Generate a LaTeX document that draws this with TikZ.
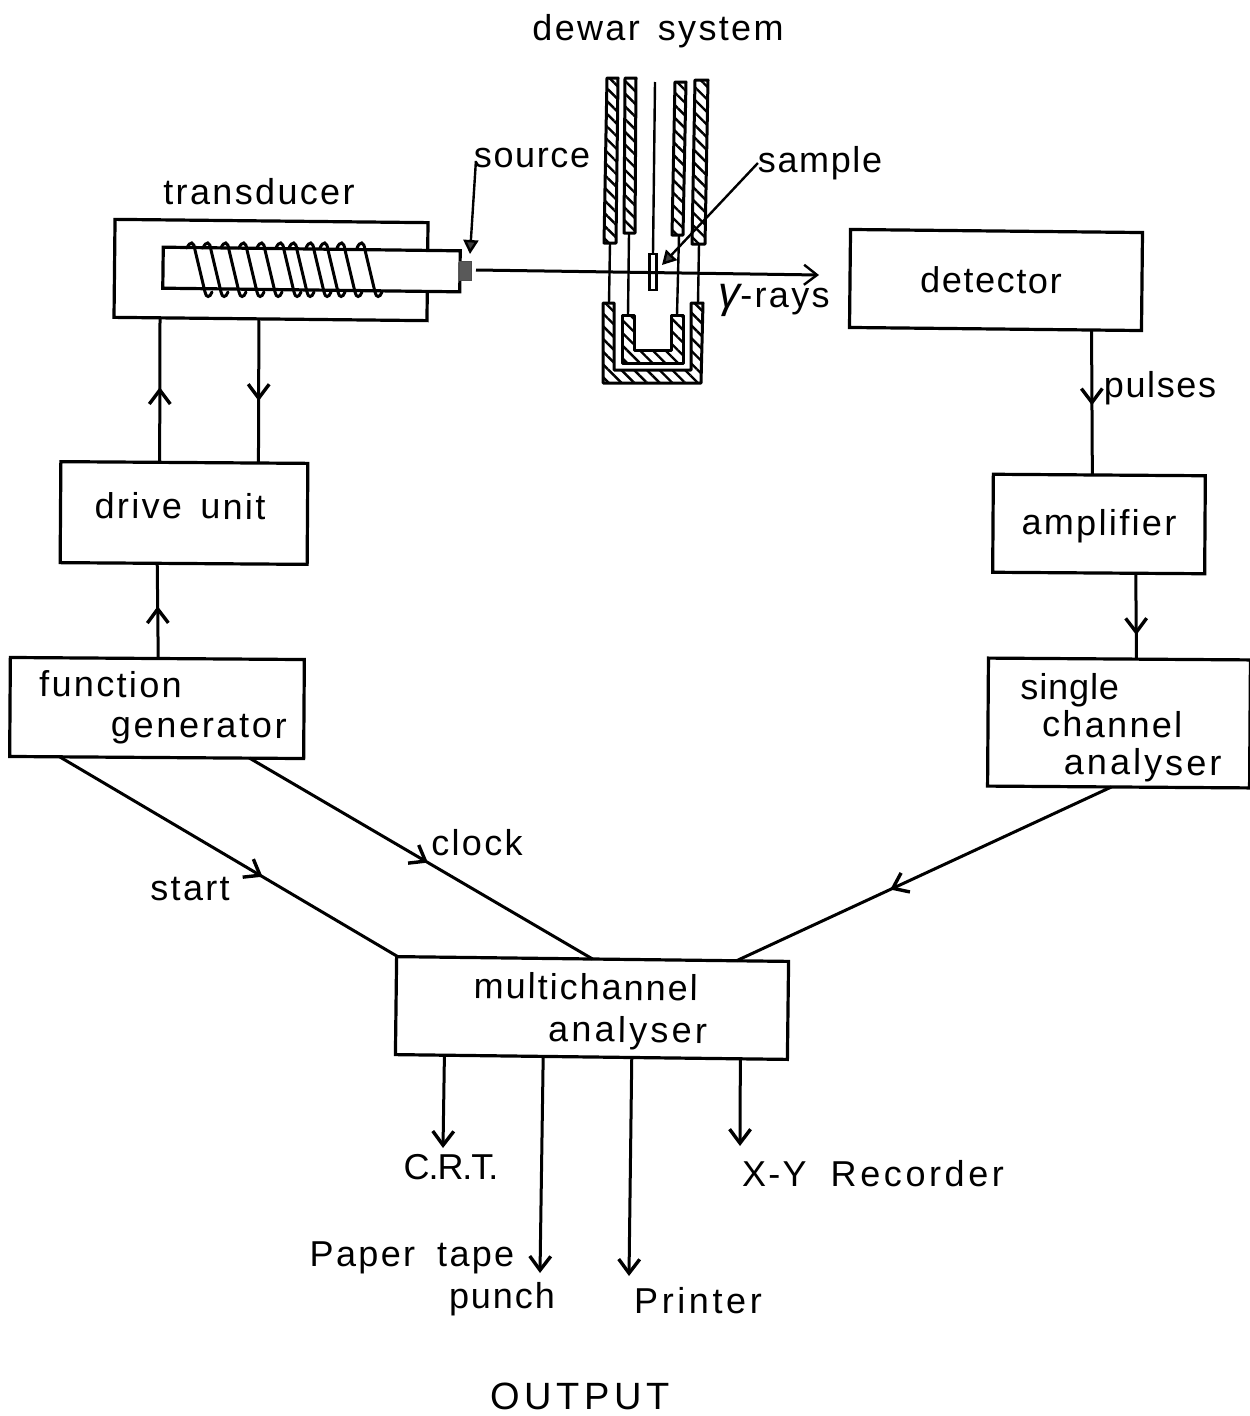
\documentclass[tikz,border=0pt]{standalone}
\usepackage{fontspec}
\setmainfont{Liberation Sans}[LetterSpace=6.5]
\usetikzlibrary{arrows.meta,calc,decorations.markings,patterns.meta}
\newcommand{\ls}[2]{{\addfontfeatures{LetterSpace=#1}#2}}
\newcommand{\liftup}[2]{\raisebox{0pt}[\height][\dimexpr\depth+#1\relax]{#2}}
\tikzset{
  x=1pt,y=-1pt,
  every node/.style={font=\fontsize{36}{40}\selectfont,inner sep=0pt,outer sep=0pt},
  wire/.style={line width=3pt,black},
  box/.style={draw=black,line width=3.2pt,fill=white,align=left},
  lbl/.style={anchor=center,align=center},
  barb/.tip={Straight Barb[length=14pt,width=21pt,line width=3.4pt]},
  midarrow/.style={postaction={decorate},decoration={markings,mark=at position #1 with {\arrow{barb}}}},
  hatched/.style={draw=black,line width=3pt,pattern={Lines[angle=-45,distance=9pt,line width=2.4pt]},line join=round},
  thin wall/.style={line width=2.4pt,black},
  pointer/.style={line width=2.4pt,-{Triangle[length=14pt,width=15pt,fill=black!75]}}
}
\begin{document}
\begin{tikzpicture}
\useasboundingbox (0,0) rectangle (1250,1416);
\fill[white] (0,0) rectangle (1250,1416);

% ---- boxes
\node[box,rotate=-0.6,minimum width=313pt,minimum height=98pt] (xdcr) at (271,270) {};
\node[box,rotate=-0.6,minimum width=292pt,minimum height=98pt] (det) at (996,280) {\ls{4.5}{detector}\hspace*{10pt}};
\node[box,rotate=-0.4,minimum width=212pt,minimum height=98pt] (amp) at (1099,524) {\rule{0pt}{30pt}amplifier};
\node[box,rotate=-0.4,minimum width=247pt,minimum height=101pt] (drive) at (184,513) {\liftup{14pt}{drive\hspace{6pt} unit}\hspace*{8pt}};
\node[box,rotate=-0.4,minimum width=294pt,minimum height=99pt] (fgen) at (157,708) {\hspace*{12pt}function\\\hspace*{84pt}\ls{7.5}{generator}};
\node[box,rotate=-0.4,minimum width=262pt,minimum height=128pt,font=\fontsize{36}{37.5}\selectfont] (sca) at (1119,723) {\rule{0pt}{36pt}\hspace*{4pt}\ls{2.5}{single}\\\hspace*{26pt}channel\\\hspace*{48pt}\ls{8.5}{analyser}};
\node[box,rotate=-0.7,minimum width=392pt,minimum height=98pt,font=\fontsize{36}{42}\selectfont] (mca) at (592,1008) {\rule{0pt}{33pt}\ls{5.5}{multichannel}\hspace*{13pt}\\\hspace*{75pt}\ls{9}{analyser}};

% ---- transducer rod and coil
\node[box,rotate=-0.7,minimum width=297pt,minimum height=41pt] (rod) at (311.5,269.5) {};
\foreach \tx in {193,209,227,245,263,282,295,312,326,343,363}{
  \draw[wire,line cap=round] (\tx-6,248) .. controls (\tx-3,241) and (\tx+1,241) .. (\tx+2,250)
     -- (\tx+12,292) .. controls (\tx+13,298) and (\tx+17,298) .. (\tx+19,292);
}
\node[draw=black!70,line width=1pt,fill=black!65,minimum width=12pt,minimum height=19pt] (src) at (465,271) {};

% ---- dewar
\draw[hatched] (607,78) -- (618,78) -- (616,243) -- (604,243) -- cycle;
\draw[hatched] (625,78) -- (636,78) -- (635,233) -- (624,233) -- cycle;
\draw[hatched] (675,82) -- (686,82) -- (683,235) -- (672,235) -- cycle;
\draw[hatched] (695,80) -- (708,80) -- (705,244) -- (692,244) -- cycle;
\draw[hatched] (603,303) -- (614,303) -- (614,370) -- (691,370) -- (691,303) -- (703,303) -- (701,383) -- (603,383) -- cycle;
\draw[hatched] (622,315) -- (634,315) -- (634,350) -- (671,350) -- (671,315) -- (683,315) -- (683,363) -- (622,363) -- cycle;
\draw[thin wall] (610,243) -- (609,303);
\draw[thin wall] (629,233) -- (628,315);
\draw[thin wall] (679,235) -- (677,315);
\draw[thin wall] (699,244) -- (698,303);
\draw[thin wall] (655,82) -- (653,254);
\node[draw=black,line width=2.4pt,fill=white,minimum width=7pt,minimum height=36pt] (samp) at (653,272) {};

% ---- gamma beam
\coordinate (beamstart) at (476,270);
\coordinate (beamend) at (819,275);
\draw[wire,-{Straight Barb[length=13pt,width=20pt,line width=2.4pt]}] (beamstart) -- (beamend);

% ---- labels
\node[lbl] (ldewar) at (658,31) {dewar\hspace{18pt}system};
\node[lbl] (lsource) at (532,158) {\ls{4.5}{source}};
\node[lbl] (lsample) at (820,163) {\ls{4.5}{sample}};
\node[lbl] (lxdcr) at (259,192) {transducer};
\node[lbl] (lgamma) at (774,300) {{\itshape\fontsize{44}{44}\selectfont γ}-rays};
\node[lbl] (lpulses) at (1160,388) {\ls{4.5}{pulses}};
\node[lbl] (lclock) at (477,843) {clock};
\node[lbl] (lstart) at (190,889) {start};
\node[lbl] (lcrt) at (451,1167) {\ls{-3}{C.R.T.}};
\node[lbl] (lxy) at (873,1174) {X-Y\hspace{24pt}\ls{10}{Recorder}};
\node[lbl] (lpaper) at (412,1258) {Paper\hspace{22pt}tape};
\node[lbl] (lpunch) at (502,1299) {\ls{5.5}{punch}};
\node[lbl] (lprinter) at (698,1301) {\ls{10}{Printer}};
\node[lbl,font=\fontsize{38}{40}\selectfont] (loutput) at (580,1396) {\ls{12}{OUTPUT}};

% ---- pointers
\coordinate (srctip) at (470,254);
\coordinate (samptip) at (662,265);
\draw[pointer] (lsource.south west) ++(2,-7) -- (srctip);
\draw[pointer] (lsample.west) -- (samptip);

% ---- connectors
\draw[wire,midarrow=0.52] ($(drive.north west)!0.40!(drive.north east)$) -- ($(xdcr.south west)!0.147!(xdcr.south east)$);
\draw[wire,midarrow=0.57] ($(xdcr.south west)!0.463!(xdcr.south east)$) -- ($(drive.north west)!0.80!(drive.north east)$);
\draw[wire,midarrow=0.55] ($(fgen.north west)!0.503!(fgen.north east)$) -- ($(drive.south west)!0.393!(drive.south east)$);
\draw[wire,midarrow=0.52] ($(det.south west)!0.829!(det.south east)$) -- ($(amp.north west)!0.467!(amp.north east)$);
\draw[wire,midarrow=0.72] ($(amp.south west)!0.675!(amp.south east)$) -- ($(sca.north west)!0.565!(sca.north east)$);
\draw[wire,midarrow=0.60] ($(fgen.south west)!0.17!(fgen.south east)$) -- ($(mca.north west)!0.003!(mca.north east)$);
\draw[wire,midarrow=0.52] ($(fgen.south west)!0.816!(fgen.south east)$) -- ($(mca.north west)!0.50!(mca.north east)$);
\draw[wire,midarrow=0.59] ($(sca.south west)!0.473!(sca.south east)$) -- ($(mca.north west)!0.867!(mca.north east)$);
\coordinate (crtend) at (443,1148);
\coordinate (tapeend) at (540,1273);
\coordinate (printend) at (629,1276);
\coordinate (xyend) at (740,1146);
\draw[wire,-barb] ($(mca.south west)!0.125!(mca.south east)$) -- (crtend);
\draw[wire,-barb] ($(mca.south west)!0.377!(mca.south east)$) -- (tapeend);
\draw[wire,-barb] ($(mca.south west)!0.603!(mca.south east)$) -- (printend);
\draw[wire,-barb] ($(mca.south west)!0.88!(mca.south east)$) -- (xyend);
\end{tikzpicture}
\end{document}
